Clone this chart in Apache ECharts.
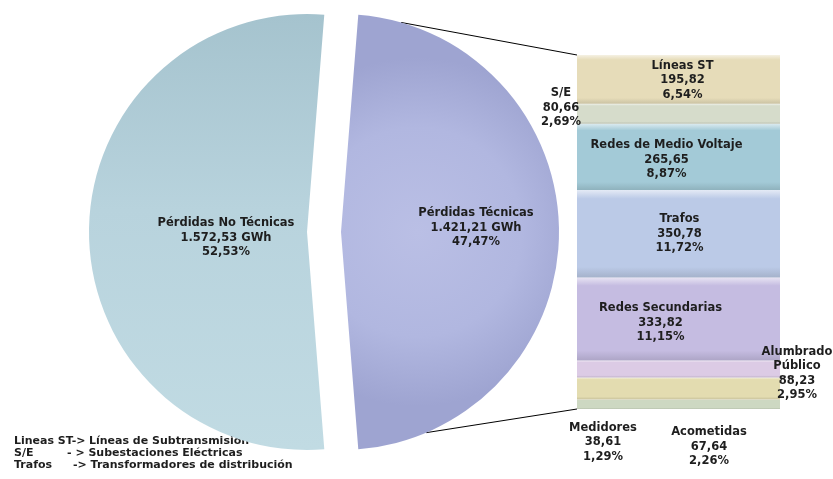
<!DOCTYPE html>
<html>
<head>
<meta charset="utf-8">
<script src="https://cdn.jsdelivr.net/npm/echarts@6/dist/echarts.min.js"></script>
<style>
  html, body { margin: 0; padding: 0; background: #ffffff; }
  #chart { width: 833px; height: 479px; }
</style>
</head>
<body>
<div id="chart"></div>
<script>
// Energy losses split (GWh)
const pieNames = ['Pérdidas Técnicas', 'Pérdidas No Técnicas'];
const pieValues = [1421.21, 1572.53];

// Breakdown of the technical losses, bottom to top of the stacked bar (GWh)
const partNames = ['Medidores', 'Alumbrado\nPúblico', 'Acometidas', 'Redes Secundarias',
                   'Trafos', 'Redes de Medio Voltaje', 'S/E', 'Líneas ST'];
const partValues = [38.61, 88.23, 67.64, 333.82, 350.78, 265.65, 80.66, 195.82];

// Abbreviation notes
const noteKeys = ['Lineas ST->', 'S/E', 'Trafos'];
const noteTexts = ['Líneas de Subtransmisión', '- > Subestaciones Eléctricas', '-> Transformadores de distribución'];

// ---- styling ----
const FONT = 'DejaVu Sans';
const TEXT = '#1e1e1e';
const partColors = ['#cdd8c2', '#e3dcb0', '#dccbe5', '#c5bce1', '#bbcae7', '#a3cad7', '#d6dccb', '#e6dcb9'];

const PIE_CENTER = [324, 232];
const PIE_R = 218;
const PIE_EXPLODE = 17;
const GRID = { left: 577, top: 55, width: 203, height: 354 };

const grandTotal = pieValues.reduce((a, b) => a + b, 0);
const techTotal = pieValues[0];

function fmtNum(v) {
  const parts = v.toFixed(2).split('.');
  return parts[0].replace(/\B(?=(\d{3})+(?!\d))/g, '.') + ',' + parts[1];
}
function fmtPct(v) {
  return (v / grandTotal * 100).toFixed(2).replace('.', ',') + '%';
}
function mix(hex, target, t) {
  const a = parseInt(hex.slice(1), 16), b = parseInt(target.slice(1), 16);
  const ch = (n, s) => (n >> s) & 255;
  const r = Math.round(ch(a, 16) + (ch(b, 16) - ch(a, 16)) * t);
  const g = Math.round(ch(a, 8) + (ch(b, 8) - ch(a, 8)) * t);
  const bl = Math.round(ch(a, 0) + (ch(b, 0) - ch(a, 0)) * t);
  return 'rgb(' + r + ',' + g + ',' + bl + ')';
}
function bevel(c) {
  return new echarts.graphic.LinearGradient(0, 0, 0, 1, [
    { offset: 0, color: mix(c, '#ffffff', 0.6) },
    { offset: 0.1, color: c },
    { offset: 0.88, color: c },
    { offset: 1, color: mix(c, '#000000', 0.12) }
  ]);
}

// label placement for the thin bar segments (offset from segment's top-left)
const outsideLabel = {
  0: [26, 43],
  1: [220, -4],
  2: [132, 86],
  6: [-16, 4]
};
// small nudges for the labels drawn inside the bar
const insideNudge = { 3: [-18, 4], 4: [1, 0], 5: [-12, 3], 7: [4, 1] };

const labelStyle = { fontFamily: FONT, fontWeight: 'bold', fontSize: 11.5, lineHeight: 14.5, color: TEXT };

const barSeries = partValues.map((v, i) => {
  const pos = outsideLabel[i];
  return {
    type: 'bar',
    name: partNames[i],
    stack: 'tech',
    barWidth: '100%',
    data: [v],
    itemStyle: { color: bevel(partColors[i]) },
    label: Object.assign({
      show: true,
      position: pos ? pos : 'inside',
      offset: insideNudge[i] || [0, 0],
      align: 'center',
      verticalAlign: 'middle',
      formatter: () => partNames[i] + '\n' + fmtNum(v) + '\n' + fmtPct(v)
    }, labelStyle),
    emphasis: { disabled: true },
    silent: true
  };
});

const pieGradients = [
  new echarts.graphic.RadialGradient(0.35, 0.5, 0.8, [
    { offset: 0, color: '#babfe5' },
    { offset: 0.6, color: '#b1b7e0' },
    { offset: 1, color: '#9ea4d1' }
  ]),
  new echarts.graphic.LinearGradient(0, 0, 0, 1, [
    { offset: 0, color: '#a5c3ce' },
    { offset: 0.45, color: '#b8d3dd' },
    { offset: 1, color: '#c1dbe3' }
  ])
];

const labelShift = [[23, -4], [31, 6]];

const chart = echarts.init(document.getElementById('chart'), null, { renderer: 'canvas' });
chart.setOption({
  animation: false,
  backgroundColor: '#ffffff',
  grid: { left: GRID.left, top: GRID.top, width: GRID.width, height: GRID.height, containLabel: false },
  xAxis: { type: 'category', data: [''], show: false, boundaryGap: true },
  yAxis: { type: 'value', min: 0, max: techTotal, show: false },
  series: [
    {
      type: 'pie',
      center: PIE_CENTER,
      radius: [0, PIE_R],
      startAngle: pieValues[0] / grandTotal * 180,
      clockwise: true,
      selectedMode: 'multiple',
      selectedOffset: PIE_EXPLODE,
      silent: true,
      emphasis: { disabled: true },
      labelLine: { show: false },
      label: Object.assign({
        show: true,
        position: 'inside',
        formatter: (p) => p.name + '\n' + fmtNum(p.value) + ' GWh\n' + fmtPct(p.value)
      }, labelStyle),
      labelLayout: (p) => ({ dx: labelShift[p.dataIndex][0], dy: labelShift[p.dataIndex][1] }),
      data: pieValues.map((v, i) => ({
        name: pieNames[i],
        value: v,
        selected: true,
        itemStyle: { color: pieGradients[i] }
      }))
    }
  ].concat(barSeries)
});

// connector lines between the technical slice and the stacked bar
const barTopPx = chart.convertToPixel({ gridIndex: 0 }, [0, techTotal]);
const barBottomPx = chart.convertToPixel({ gridIndex: 0 }, [0, 0]);
const barLeft = barTopPx[0] - GRID.width / 2;
const sliceCx = PIE_CENTER[0] + PIE_EXPLODE;
const sliceCy = PIE_CENTER[1];
function arcPoint(deg) {
  const a = deg * Math.PI / 180;
  return [sliceCx + PIE_R * Math.cos(a), sliceCy - PIE_R * Math.sin(a)];
}
const pTop = arcPoint(74);
const pBottom = arcPoint(-67);

const noteFont = 'bold 11px "' + FONT + '"';
const noteX = [89, 67, 73];
const noteY = [436, 448, 460];
const noteGraphics = [];
noteKeys.forEach((k, i) => {
  noteGraphics.push({ type: 'text', left: 14, top: noteY[i], silent: true,
    style: { text: k, font: noteFont, fill: TEXT } });
  noteGraphics.push({ type: 'text', left: noteX[i], top: noteY[i], silent: true,
    style: { text: noteTexts[i], font: noteFont, fill: TEXT } });
});

chart.setOption({
  graphic: [
    { type: 'line', silent: true, z: 1,
      shape: { x1: pTop[0], y1: pTop[1], x2: barLeft, y2: barTopPx[1] },
      style: { stroke: '#000000', lineWidth: 1 } },
    { type: 'line', silent: true, z: 1,
      shape: { x1: pBottom[0], y1: pBottom[1], x2: barLeft, y2: barBottomPx[1] },
      style: { stroke: '#000000', lineWidth: 1 } }
  ].concat(noteGraphics)
});
</script>
</body>
</html>
